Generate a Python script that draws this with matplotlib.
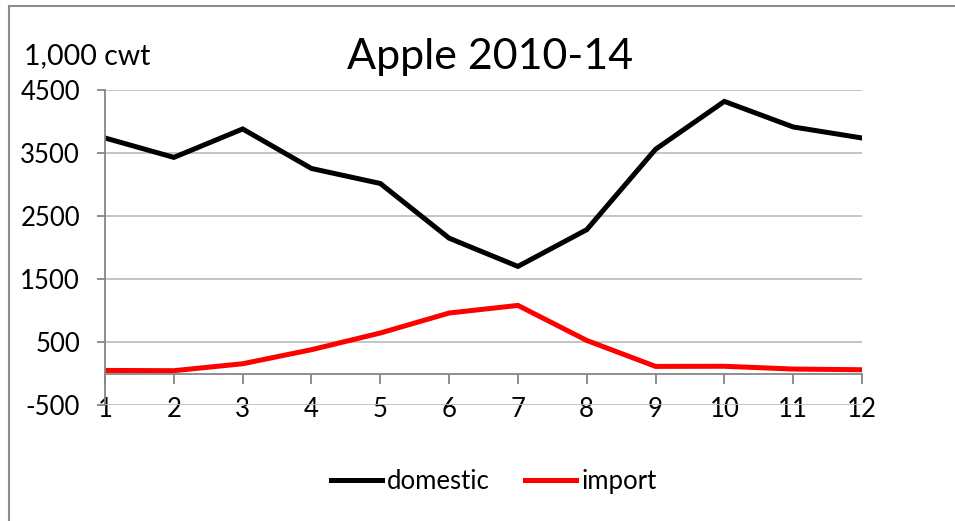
import matplotlib
matplotlib.use("Agg")
import matplotlib.pyplot as plt
from matplotlib.lines import Line2D

# Monthly apple volumes, 2010-14 average (1,000 cwt)
MONTHS = list(range(1, 13))
DOMESTIC = [3738, 3430, 3881, 3254, 3016, 2148, 1700, 2283, 3559, 4319, 3913, 3738]
IMPORT = [49, 45, 155, 378, 643, 960, 1081, 525, 113, 115, 71, 60]
Y_TICKS = [-500, 500, 1500, 2500, 3500, 4500]

plt.rcParams["font.family"] = ["Lato", "DejaVu Sans"]
plt.rcParams["axes.unicode_minus"] = False

fig = plt.figure(figsize=(9.55, 5.21), dpi=100)
ax = fig.add_axes([0.110, 0.2226, 0.7926, 0.6047])

ax.plot(MONTHS, DOMESTIC, color="black", lw=3.6, solid_joinstyle="miter", label="domestic")
ax.plot(MONTHS, IMPORT, color="#ff0000", lw=3.6, solid_joinstyle="miter", label="import")

ax.set_xlim(1, 12)
ax.set_ylim(-500, 4500)
ax.set_yticks(Y_TICKS)
ax.set_xticks(MONTHS)
ax.grid(axis="y", color="#bfbfbf", lw=1.3)
ax.set_axisbelow(True)

for side in ("top", "right"):
    ax.spines[side].set_visible(False)
ax.spines["left"].set_color("#868686")
ax.spines["left"].set_linewidth(1.3)
ax.spines["bottom"].set_position(("data", 0))
ax.spines["bottom"].set_color("#868686")
ax.spines["bottom"].set_linewidth(1.3)

ax.tick_params(axis="y", length=6, width=1.3, color="#868686", labelsize=18.5, pad=12)
ax.tick_params(axis="x", direction="out", length=7, width=1.3, color="#868686",
               labelsize=18.5, pad=10)

fig.text(0.513, 0.89, "Apple 2010-14", ha="center", va="center", fontsize=31)
fig.text(0.025, 0.893, "1,000 cwt", ha="left", va="center", fontsize=20.5)

handles = [Line2D([], [], color="black", lw=3.6), Line2D([], [], color="#ff0000", lw=3.6)]
fig.legend(handles, ["domestic", "import"], loc="center", bbox_to_anchor=(0.517, 0.075),
           ncol=2, frameon=False, fontsize=18.5, handlelength=2.0, handletextpad=0.2,
           columnspacing=1.35)

# chart frame: left and top edges only
fig.add_artist(Line2D([0.009, 0.009], [0, 0.988], transform=fig.transFigure,
                      color="#8c8c8c", lw=1.5))
fig.add_artist(Line2D([0.009, 1.0], [0.988, 0.988], transform=fig.transFigure,
                      color="#8c8c8c", lw=1.5))

fig.savefig("out.png", dpi=100)
